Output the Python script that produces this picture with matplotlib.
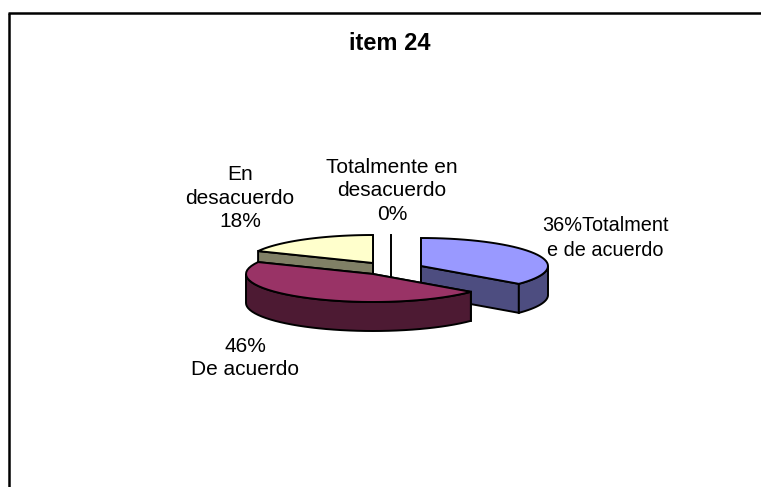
"""item 24: exploded 3d style pie, drawn as polygons from the shares."""

import numpy as np
import matplotlib.pyplot as plt
from matplotlib.patches import Polygon

plt.rcParams['font.family'] = ['Liberation Sans', 'DejaVu Sans']

# data
categories = ["Totalmente de acuerdo", "De acuerdo", "En desacuerdo", "Totalmente en desacuerdo"]
shares = [36, 46, 18, 0]
top_colors = ["#9999FF", "#993366", "#FFFFCC", "#FFFFFF"]
side_colors = ["#4D4D80", "#4D1A33", "#808066", "#808080"]

W, H = 761, 487
RX, RY, DEPTH = 127, 28, 29
APEX = {
    "Totalmente de acuerdo": (421, 266),
    "De acuerdo": (373, 274),
    "En desacuerdo": (373, 263),
    "Totalmente en desacuerdo": (391, 263),
}

fig = plt.figure(figsize=(W / 100, H / 100), dpi=100)
ax = fig.add_axes([0, 0, 1, 1])
ax.set_xlim(0, W)
ax.set_ylim(H, 0)
ax.axis('off')

# chart frame, the picture cuts it off at the right and bottom
ax.plot([9.3, 9.3], [H, 13.3], color='black', lw=1.8, solid_capstyle='butt')
ax.plot([8, W], [13.3, 13.3], color='black', lw=1.8, solid_capstyle='butt')


def rim(cx, cy, a0, a1, n=40):
    # angles in degrees, clockwise from twelve o'clock
    t = np.radians(np.linspace(a0, a1, n))
    return np.column_stack([cx + RX * np.sin(t), cy - RY * np.cos(t)])


def side(points, color, zorder):
    ax.add_patch(Polygon(points, closed=True, facecolor=color, edgecolor='black',
                         lw=1.4, joinstyle='miter', zorder=zorder))


starts = np.cumsum([0] + shares[:-1]) * 3.6
ends = np.cumsum(shares) * 3.6

# drawn back to front: zero slice, yellow, blue, maroon
order = [3, 2, 0, 1]
for z, i in enumerate(order):
    name = categories[i]
    cx, cy = APEX[name]
    a0, a1 = starts[i], ends[i]
    zb = 2 + z * 3

    if shares[i] == 0:
        ax.plot([cx, cx], [cy - RY, cy + DEPTH], color='black', lw=1.4, zorder=zb)
        continue

    edge = rim(cx, cy, a0, a1)
    apex = np.array([cx, cy])
    drop = np.array([0, DEPTH])

    # cut faces
    for a in (a0, a1):
        p = rim(cx, cy, a, a, 1)[0]
        side([apex, p, p + drop, apex + drop], side_colors[i], zb)

    # outer wall, only the part facing the viewer
    lo, hi = max(a0, 90), min(a1, 270)
    if hi > lo:
        wall = rim(cx, cy, lo, hi)
        side(np.vstack([wall, (wall + drop)[::-1]]), side_colors[i], zb + 1)

    side(np.vstack([apex, edge]), top_colors[i], zb + 2)

ax.text(390, 44, "item 24", ha='center', va='center', fontsize=17, fontweight='bold')

label_kw = dict(ha='center', va='center', zorder=30)
ax.text(605, 238, "36%Totalment\ne de acuerdo", fontsize=14.3, linespacing=1.4, **label_kw)
ax.text(245, 358, "46%\nDe acuerdo", fontsize=15, linespacing=1.25, **label_kw)
ax.text(240, 198, "En\ndesacuerdo\n18%", fontsize=15, linespacing=1.32, **label_kw)
ax.text(392, 191, "Totalmente en\ndesacuerdo\n0%", fontsize=15, linespacing=1.32, **label_kw)

fig.savefig("out.png", dpi=100)
